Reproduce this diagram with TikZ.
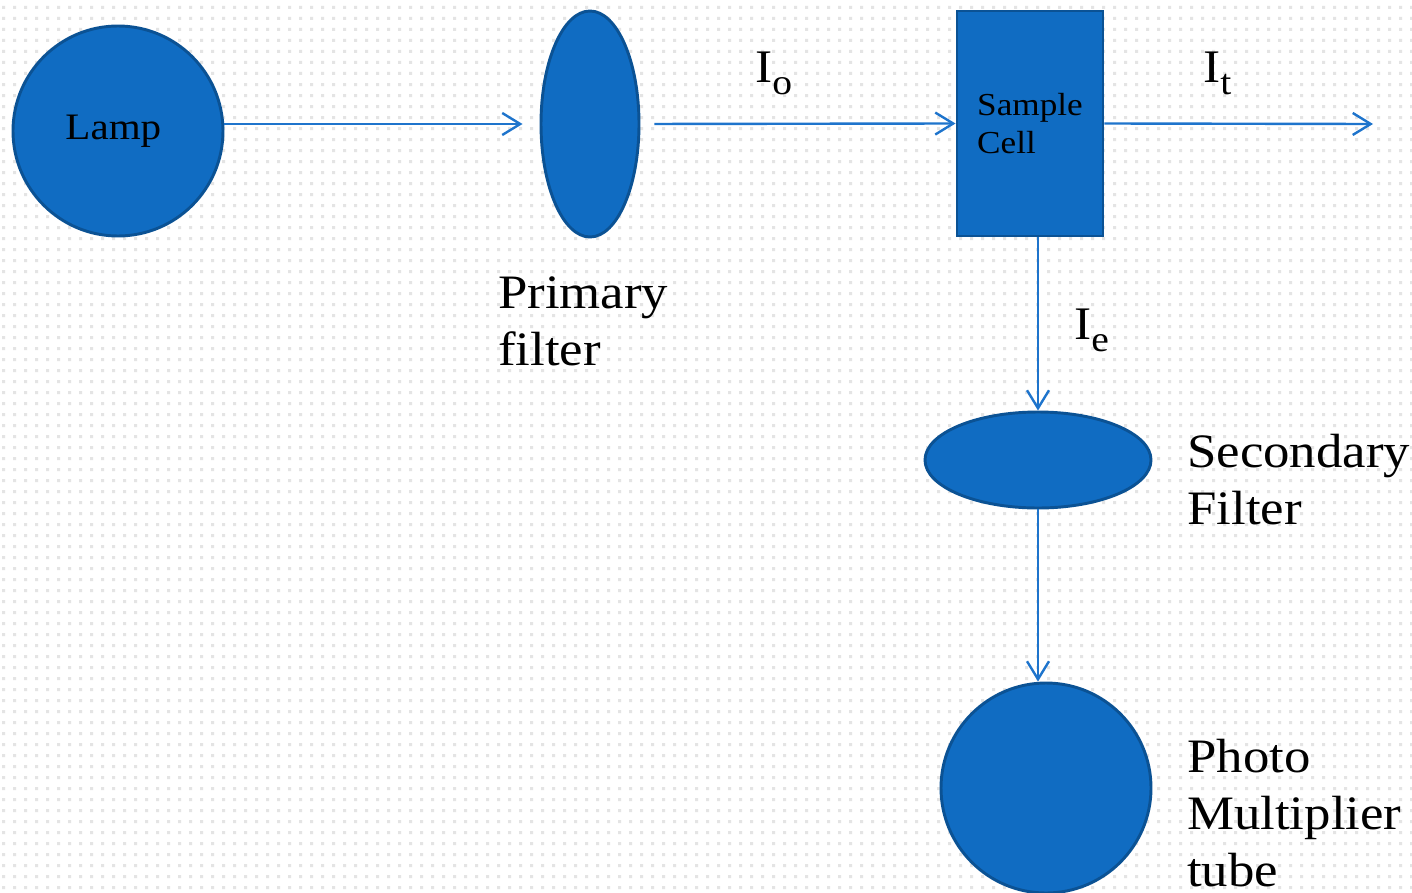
\documentclass[tikz,border=0pt]{standalone}
\usepackage{fontspec}
\setmainfont{Liberation Serif}[FakeStretch=1.1]
\usetikzlibrary{shapes.geometric,arrows.meta}
\definecolor{shapefill}{RGB}{16,108,194}
\definecolor{shapeedge}{RGB}{11,82,148}
\definecolor{linecol}{RGB}{30,116,204}
\definecolor{dotcol}{RGB}{228,228,228}
\tikzset{
  blob/.style={fill=shapefill,draw=shapeedge,line width=2.2pt,inner sep=0pt},
  arr/.style={draw=linecol,line width=1.8pt,-{Straight Barb[length=13.5pt,width=16.5pt,line width=1.8pt]}},
  biglabel/.style={anchor=base west,inner sep=0pt,font=\fontsize{36}{42.75}\selectfont},
  ilabel/.style={anchor=base west,inner sep=0pt,font=\fontsize{35}{40}\selectfont},
}
\newcommand{\mysub}[1]{\raisebox{-9pt}{\fontsize{27}{30}\selectfont #1}}
\begin{document}
\begin{tikzpicture}[x=0.75pt,y=-0.75pt]
\useasboundingbox (0,0) rectangle (1412,892);
\clip (0,0) rectangle (1412,892);
\fill[white] (0,0) rectangle (1412,892);
\foreach \i in {0,...,128} {
  \fill[dotcol] \foreach \j in {0,...,81} {(\i*11+2,\j*11+6) rectangle ++(3,3)};
}
% shapes
\node[blob,circle,minimum size=157.5pt,font=\fontsize{28}{32}\selectfont] (lamp) at (118,131) {\hspace*{-7pt}Lamp\vphantom{$\big($}};
\node[blob,ellipse,minimum width=73.5pt,minimum height=169.5pt] (pf) at (590,124) {};
\node[blob,rectangle,minimum width=109.5pt,minimum height=168.75pt,align=left,font=\fontsize{24}{28.5}\selectfont] (cell) at (1030,123.5) {Sample\\Cell};
\node[blob,ellipse,minimum width=169.5pt,minimum height=72pt] (sf) at (1038,460) {};
\node[blob,circle,minimum size=157.5pt] (pmt) at (1046,788) {};
% labels
\node[biglabel] (pflabel) at (498,308) {\begin{tabular}[t]{@{}l@{}}Primary\\filter\end{tabular}};
\node[biglabel] (sflabel) at (1187,467) {\begin{tabular}[t]{@{}l@{}}Secondary\\Filter\end{tabular}};
\node[biglabel] (pmtlabel) at (1187,772) {\begin{tabular}[t]{@{}l@{}}Photo\\Multiplier\\tube\end{tabular}};
\node[ilabel] (io) at (755,83) {I\mysub{o}};
\node[ilabel] (it) at (1203,83) {I\mysub{t}};
\node[ilabel] (ie) at (1074,339) {I\mysub{e}};
% connectors
\coordinate (tend) at (1373,124);
\draw[arr,shorten >=12.75pt] (lamp.east |- pf.west) -- (pf.west);
\draw[arr,shorten <=10.5pt] (pf.east) -- (cell.west);
\draw[arr] (cell.east) -- (tend);
\draw[arr] (cell.south -| sf.north) -- (sf.north);
\draw[arr] (sf.south) -- (sf.south |- pmt.north);
\end{tikzpicture}
\end{document}
